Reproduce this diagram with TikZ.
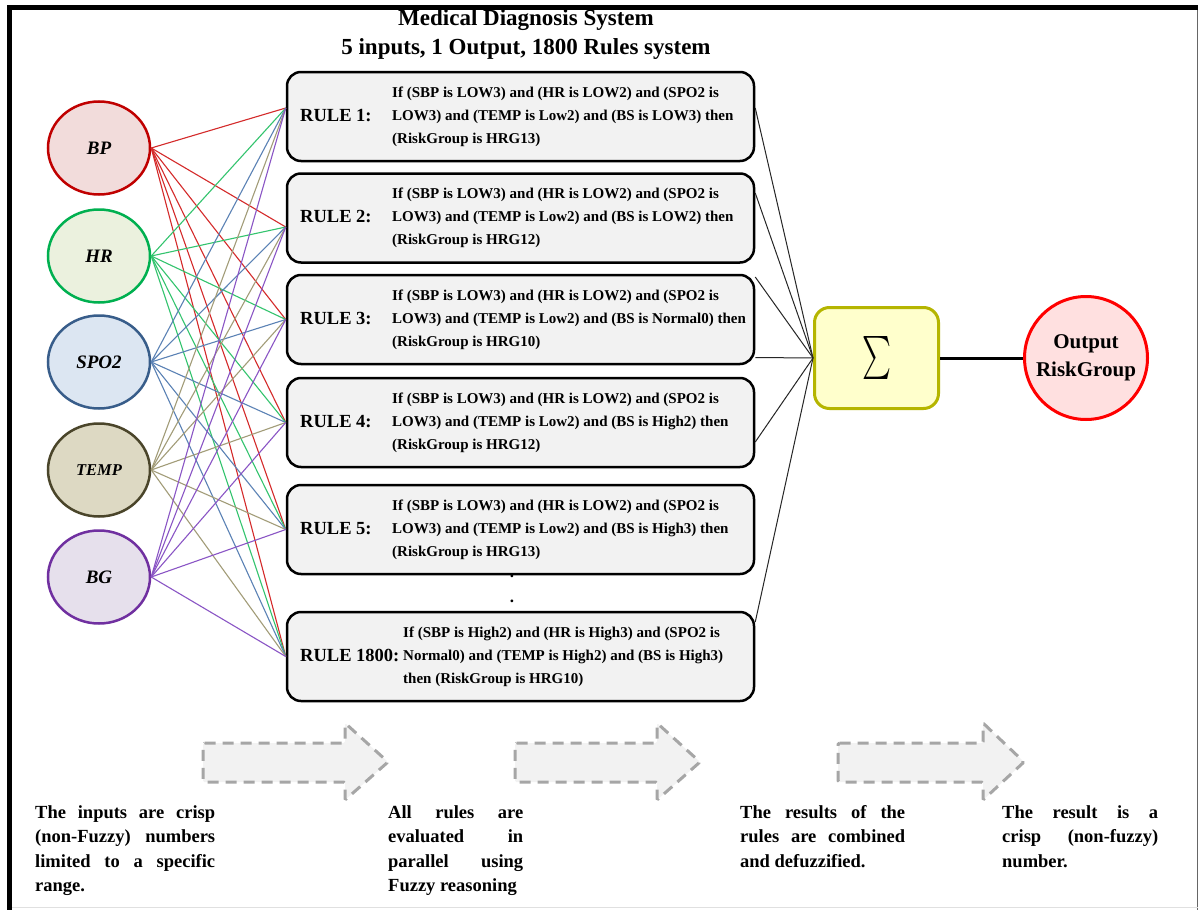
\documentclass[tikz,border=0pt]{standalone}
\usepackage{fontspec}
\setmainfont{Liberation Serif}
\usepackage{graphicx}
\usetikzlibrary{shapes.geometric}

\definecolor{bpd}{HTML}{C00000}  \definecolor{bpf}{HTML}{F2DCDB}  \definecolor{bpe}{HTML}{D42A2A}
\definecolor{hrd}{HTML}{00B050}  \definecolor{hrf}{HTML}{EBF1DE}  \definecolor{hre}{HTML}{33C46E}
\definecolor{spd}{HTML}{385D8A}  \definecolor{spf}{HTML}{DCE6F2}  \definecolor{spe}{HTML}{5B82B5}
\definecolor{tpd}{HTML}{4A452A}  \definecolor{tpf}{HTML}{DDD9C3}  \definecolor{tpe}{HTML}{A29C78}
\definecolor{bgd}{HTML}{7030A0}  \definecolor{bgf}{HTML}{E6E0EC}  \definecolor{bge}{HTML}{8A55C5}
\definecolor{rulefill}{HTML}{F2F2F2}
\definecolor{sumd}{HTML}{B5B500} \definecolor{sumf}{HTML}{FFFFCC}
\definecolor{outd}{HTML}{FF0000} \definecolor{outf}{HTML}{FFE0E0}
\definecolor{arrd}{HTML}{A6A6A6}

\tikzset{
  inbox/.style={ellipse, minimum width=102pt, minimum height=93pt, line width=2.5pt,
    inner sep=0pt, font=\fontsize{19}{20}\selectfont\bfseries\itshape},
  rulebox/.style={draw, line width=2.5pt, rounded corners=14pt, fill=rulefill,
    minimum width=467pt, minimum height=89pt, inner sep=0pt},
  rulelab/.style={anchor=base west, inner sep=0pt, font=\fontsize{18.5}{20}\selectfont\bfseries},
  ruletext/.style={anchor=west, align=left, inner sep=0pt, font=\fontsize{15}{23}\selectfont\bfseries},
  wire/.style={line width=1.1pt},
  sumwire/.style={line width=1pt, black!85},
  notetext/.style={anchor=north west, align=justify, inner sep=0pt,
    font=\fontsize{18.5}{24.5}\selectfont\bfseries},
  flowarrow/.style={fill=rulefill, draw=arrd, line width=3pt, dash pattern=on 11pt off 7pt,
    rounded corners=1.5pt},
}

\begin{document}
\begin{tikzpicture}[x=1pt,y=-1pt]
\useasboundingbox (0,0) rectangle (1200,910);
\fill[white] (0,0) rectangle (1200,910);

% page frame
\draw[line width=1pt, black!60] (1197.5,8) -- (1197.5,910);
\draw[line width=1pt, black!12] (9.5,907.5) -- (1197.5,907.5);
\draw[line width=5pt] (9.5,910) -- (9.5,7.5) -- (1198,7.5);

% title
\node[font=\fontsize{23}{25}\selectfont\bfseries] (title) at (526,20.5) {Medical Diagnosis System};
\node[font=\fontsize{23}{25}\selectfont\bfseries] (subtitle) at (526,49.5) {5 inputs, 1 Output, 1800 Rules system};

% inputs
\node[inbox, draw=bpd, fill=bpf] (bp)   at (99,148) {BP};
\node[inbox, draw=hrd, fill=hrf] (hr)   at (99,256) {HR};
\node[inbox, draw=spd, fill=spf] (spo)  at (99,362) {SPO2};
\node[inbox, draw=tpd, fill=tpf, font=\fontsize{16.5}{18}\selectfont\bfseries\itshape] (temp) at (99,470) {TEMP};
\node[inbox, draw=bgd, fill=bgf] (bg)   at (99,577) {BG};

% rule boxes
\node[rulebox] (r1) at (520.5,116.5) {};
\node[rulebox] (r2) at (520.5,218) {};
\node[rulebox] (r3) at (520.5,319.5) {};
\node[rulebox] (r4) at (520.5,422.5) {};
\node[rulebox] (r5) at (520.5,529.5) {};
\node[rulebox] (r6) at (520.5,656.5) {};

\node[rulelab] (l1) at (300,121) {RULE 1:};
\node[ruletext] (t1) at (392,116.5) {If (SBP is LOW3) and (HR is LOW2) and (SPO2 is\\LOW3) and (TEMP is Low2) and (BS is LOW3) then\\(RiskGroup is HRG13)};
\node[rulelab] (l2) at (300,222.5) {RULE 2:};
\node[ruletext] (t2) at (392,218) {If (SBP is LOW3) and (HR is LOW2) and (SPO2 is\\LOW3) and (TEMP is Low2) and (BS is LOW2) then\\(RiskGroup is HRG12)};
\node[rulelab] (l3) at (300,324) {RULE 3:};
\node[ruletext] (t3) at (392,319.5) {If (SBP is LOW3) and (HR is LOW2) and (SPO2 is\\LOW3) and (TEMP is Low2) and (BS is Normal0) then\\(RiskGroup is HRG10)};
\node[rulelab] (l4) at (300,427) {RULE 4:};
\node[ruletext] (t4) at (392,422.5) {If (SBP is LOW3) and (HR is LOW2) and (SPO2 is\\LOW3) and (TEMP is Low2) and (BS is High2) then\\(RiskGroup is HRG12)};
\node[rulelab] (l5) at (300,534) {RULE 5:};
\node[ruletext] (t5) at (392,529.5) {If (SBP is LOW3) and (HR is LOW2) and (SPO2 is\\LOW3) and (TEMP is Low2) and (BS is High3) then\\(RiskGroup is HRG13)};
\node[rulelab] (l6) at (300,661) {RULE 1800:};
\node[ruletext] (t6) at (403,656.5) {If (SBP is High2) and (HR is High3) and (SPO2 is\\Normal0) and (TEMP is High2) and (BS is High3)\\then (RiskGroup is HRG10)};

\node[font=\fontsize{17}{18}\selectfont\bfseries, inner sep=0pt] (dot1) at (512,576) {.};
\node[font=\fontsize{17}{18}\selectfont\bfseries, inner sep=0pt] (dot2) at (512,601) {.};

% where the input wires meet each rule
\coordinate (i1) at ([yshift=8.5pt]r1.west);
\coordinate (i2) at ([yshift=-9pt]r2.west);
\coordinate (i3) at (r3.west);
\coordinate (i4) at (r4.west);
\coordinate (i5) at (r5.west);
\coordinate (i6) at (r6.west);

% every input feeds every rule
\foreach \src/\col in {bp/bpe, hr/hre, spo/spe, temp/tpe, bg/bge}
  \foreach \dst in {i1,i2,i3,i4,i5,i6}
    \draw[wire, \col] (\src.east) -- (\dst);

% aggregation
\node[draw=sumd, fill=sumf, line width=3pt, rounded corners=15pt,
      minimum width=124pt, minimum height=101pt, inner sep=0pt] (sum) at (876.5,358)
      {\resizebox*{29pt}{43pt}{$\textstyle\sum$}};
\node[circle, draw=outd, fill=outf, line width=3pt, minimum size=123pt, inner sep=0pt,
      align=center, font=\fontsize{21}{28}\selectfont\bfseries] (out) at (1086,358)
      {Output\\RiskGroup};

\coordinate (o1) at ([yshift=8.5pt]r1.east);
\coordinate (o2) at ([yshift=25pt]r2.east);
\coordinate (o3) at ([yshift=42.5pt]r3.east);
\coordinate (o4) at ([yshift=-38pt]r3.east);
\coordinate (o5) at ([yshift=-19.5pt]r4.east);
\coordinate (o6) at ([yshift=34.5pt]r6.east);
\foreach \p in {o1,o2,o3,o4,o5,o6}
  \draw[sumwire] (\p) -- (sum.west);

\draw[line width=3pt] (sum.east) -- (out.west);

% process arrows
\draw[flowarrow] (203,743) -- (345,743) -- (345,723) -- (388,762) -- (345,800) -- (345,782) -- (203,782) -- cycle;
\draw[flowarrow] (515,743) -- (657,743) -- (657,723) -- (700,762) -- (657,800) -- (657,782) -- (515,782) -- cycle;
\draw[flowarrow] (838,743) -- (983,743) -- (983,723) -- (1024,762) -- (983,800) -- (983,782) -- (838,782) -- cycle;

% stage notes
\node[notetext, text width=180pt] (n1) at (35,805)
  {The inputs are crisp\linebreak (non-Fuzzy) numbers\linebreak limited to a specific\linebreak range.};
\node[notetext, text width=135pt] (n2) at (388,805)
  {\parfillskip=0pt All rules are\linebreak evaluated in\linebreak parallel using\linebreak Fuzzy reasoning};
\node[notetext, text width=165pt] (n3) at (740,805)
  {The results of the\linebreak rules are combined\linebreak and defuzzified.};
\node[notetext, text width=156pt] (n4) at (1002,805)
  {The result is a\linebreak crisp (non-fuzzy)\linebreak number.};
\end{tikzpicture}
\end{document}
